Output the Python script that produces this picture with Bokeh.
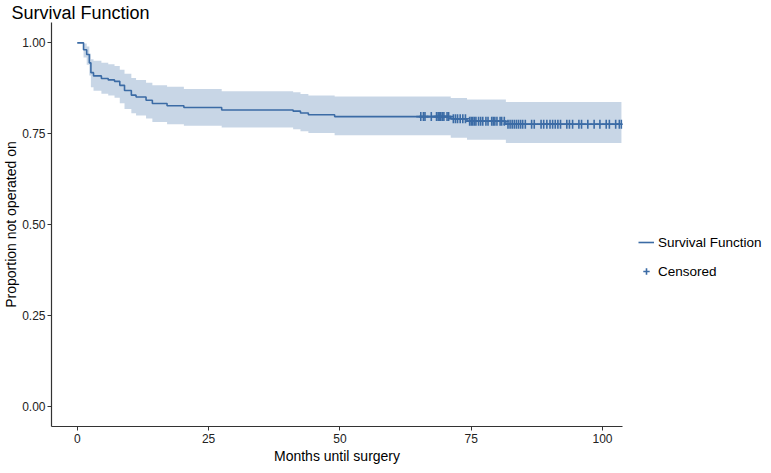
import numpy as np
from bokeh.plotting import figure
from bokeh.models import Legend, LegendItem, NumeralTickFormatter, FixedTicker
from bokeh.embed import file_html
from bokeh.resources import INLINE

# Kaplan-Meier step data
step_time = [0, 1.2, 1.8, 2.3, 2.6, 3.1, 4.6, 5.9, 7.1, 8.1, 9.0, 10.3, 11.2, 13.1,
             14.3, 17.1, 20.3, 27.5, 41.1, 42.5, 44.0, 49.0, 71.1, 74.2, 81.6]
survival = [1.0, 0.981, 0.968, 0.945, 0.918, 0.909, 0.902, 0.898, 0.894, 0.883, 0.869,
            0.856, 0.851, 0.842, 0.833, 0.827, 0.822, 0.815, 0.812, 0.807, 0.802, 0.797,
            0.791, 0.784, 0.776]
upper = [1.0, 0.998, 0.99, 0.97, 0.955, 0.951, 0.945, 0.941, 0.936, 0.926, 0.915, 0.903,
         0.898, 0.890, 0.883, 0.879, 0.873, 0.867, 0.864, 0.859, 0.855, 0.852, 0.848,
         0.844, 0.837]
lower = [1.0, 0.96, 0.94, 0.91, 0.878, 0.868, 0.860, 0.855, 0.849, 0.834, 0.818, 0.806,
         0.800, 0.792, 0.782, 0.776, 0.772, 0.767, 0.762, 0.757, 0.752, 0.746, 0.739,
         0.733, 0.724]
end_time = 103.6

censor_time = [65.4, 65.9, 66.2, 67.4, 68.4, 68.7, 68.9, 69.2, 69.5, 69.8, 70.4, 70.7,
               71.6, 72.0, 72.4, 72.9, 73.4, 73.9,
               74.7, 75.0, 75.3, 75.6, 75.9, 76.4, 76.8, 77.2, 77.8, 78.2, 78.9, 79.2,
               79.5, 79.9, 80.5, 80.8, 81.3,
               82.0, 82.4, 82.8, 83.2, 83.6, 84.0, 84.4, 84.8, 85.3, 86.5, 87.0, 88.3,
               88.8, 89.4, 90.0, 90.5, 91.0, 91.5, 92.0, 93.2, 93.7, 94.3, 95.5, 96.0,
               97.2, 98.4, 99.5, 100.7, 101.3, 102.5, 103.2, 103.6]

x_ticks = [0, 25, 50, 75, 100]
y_ticks = [0, 0.25, 0.5, 0.75, 1.0]

LINE = "#3B6BA5"
FONT = "Liberation Sans"

t = np.array(step_time + [end_time])
s = np.array(survival + [survival[-1]])
u = np.array(upper + [upper[-1]])
lo = np.array(lower + [lower[-1]])
ct = np.array(censor_time)
idx = np.searchsorted(np.array(step_time), ct, side="right") - 1
cs = np.array(survival)[idx]

p = figure(frame_width=571, frame_height=404, output_backend="svg", toolbar_location=None,
           x_range=(-4.9, 103.8), y_range=(-0.056, 1.056),
           title="Survival Function", min_border_left=0, min_border_bottom=0,
           min_border_top=0, min_border_right=0)

p.varea_step(x=t, y1=lo, y2=u, step_mode="after", fill_color=LINE, fill_alpha=0.28)
r_line = p.step(x=t, y=s, mode="after", line_color=LINE, line_width=1.6)
r_cens = p.scatter(x=ct, y=cs, marker="cross", size=9, line_color=LINE, line_width=1.6)

p.title.text_font = FONT
p.title.text_font_size = "18px"
p.title.text_font_style = "normal"
p.title.text_color = "#000000"
p.title.offset = -40
p.title.standoff = 0

p.xgrid.visible = False
p.ygrid.visible = False
p.outline_line_color = None

for ax in (p.xaxis[0], p.yaxis[0]):
    ax.axis_line_color = "#333333"
    ax.axis_line_width = 1.2
    ax.major_tick_line_color = "#333333"
    ax.major_tick_out = 4
    ax.major_tick_in = 0
    ax.minor_tick_line_color = None
    ax.major_label_text_font = FONT
    ax.major_label_text_font_size = "12px"
    ax.major_label_text_color = "#222222"
    ax.axis_label_text_font = FONT
    ax.axis_label_text_font_size = "14px"
    ax.axis_label_text_font_style = "normal"
    ax.axis_label_text_color = "#000000"

p.xaxis.axis_label = "Months until surgery"
p.yaxis.axis_label = "Proportion not operated on"
p.xaxis.ticker = FixedTicker(ticks=x_ticks)
p.yaxis.ticker = FixedTicker(ticks=y_ticks)
p.yaxis.formatter = NumeralTickFormatter(format="0.00")
p.xaxis.axis_label_standoff = 2
p.yaxis.axis_label_standoff = 0
p.xaxis.major_label_standoff = 3
p.yaxis.major_label_standoff = 2

legend = Legend(items=[LegendItem(label="Survival Function", renderers=[r_line]),
                       LegendItem(label="Censored", renderers=[r_cens])],
                location=(16, 147), label_text_font=FONT, label_text_font_size="13.5px",
                label_text_color="#000000", border_line_color=None,
                glyph_width=16, glyph_height=16, spacing=13, padding=2, margin=0,
                label_standoff=4)
p.add_layout(legend, "right")

open("out.html", "w").write(file_html(p, INLINE))
